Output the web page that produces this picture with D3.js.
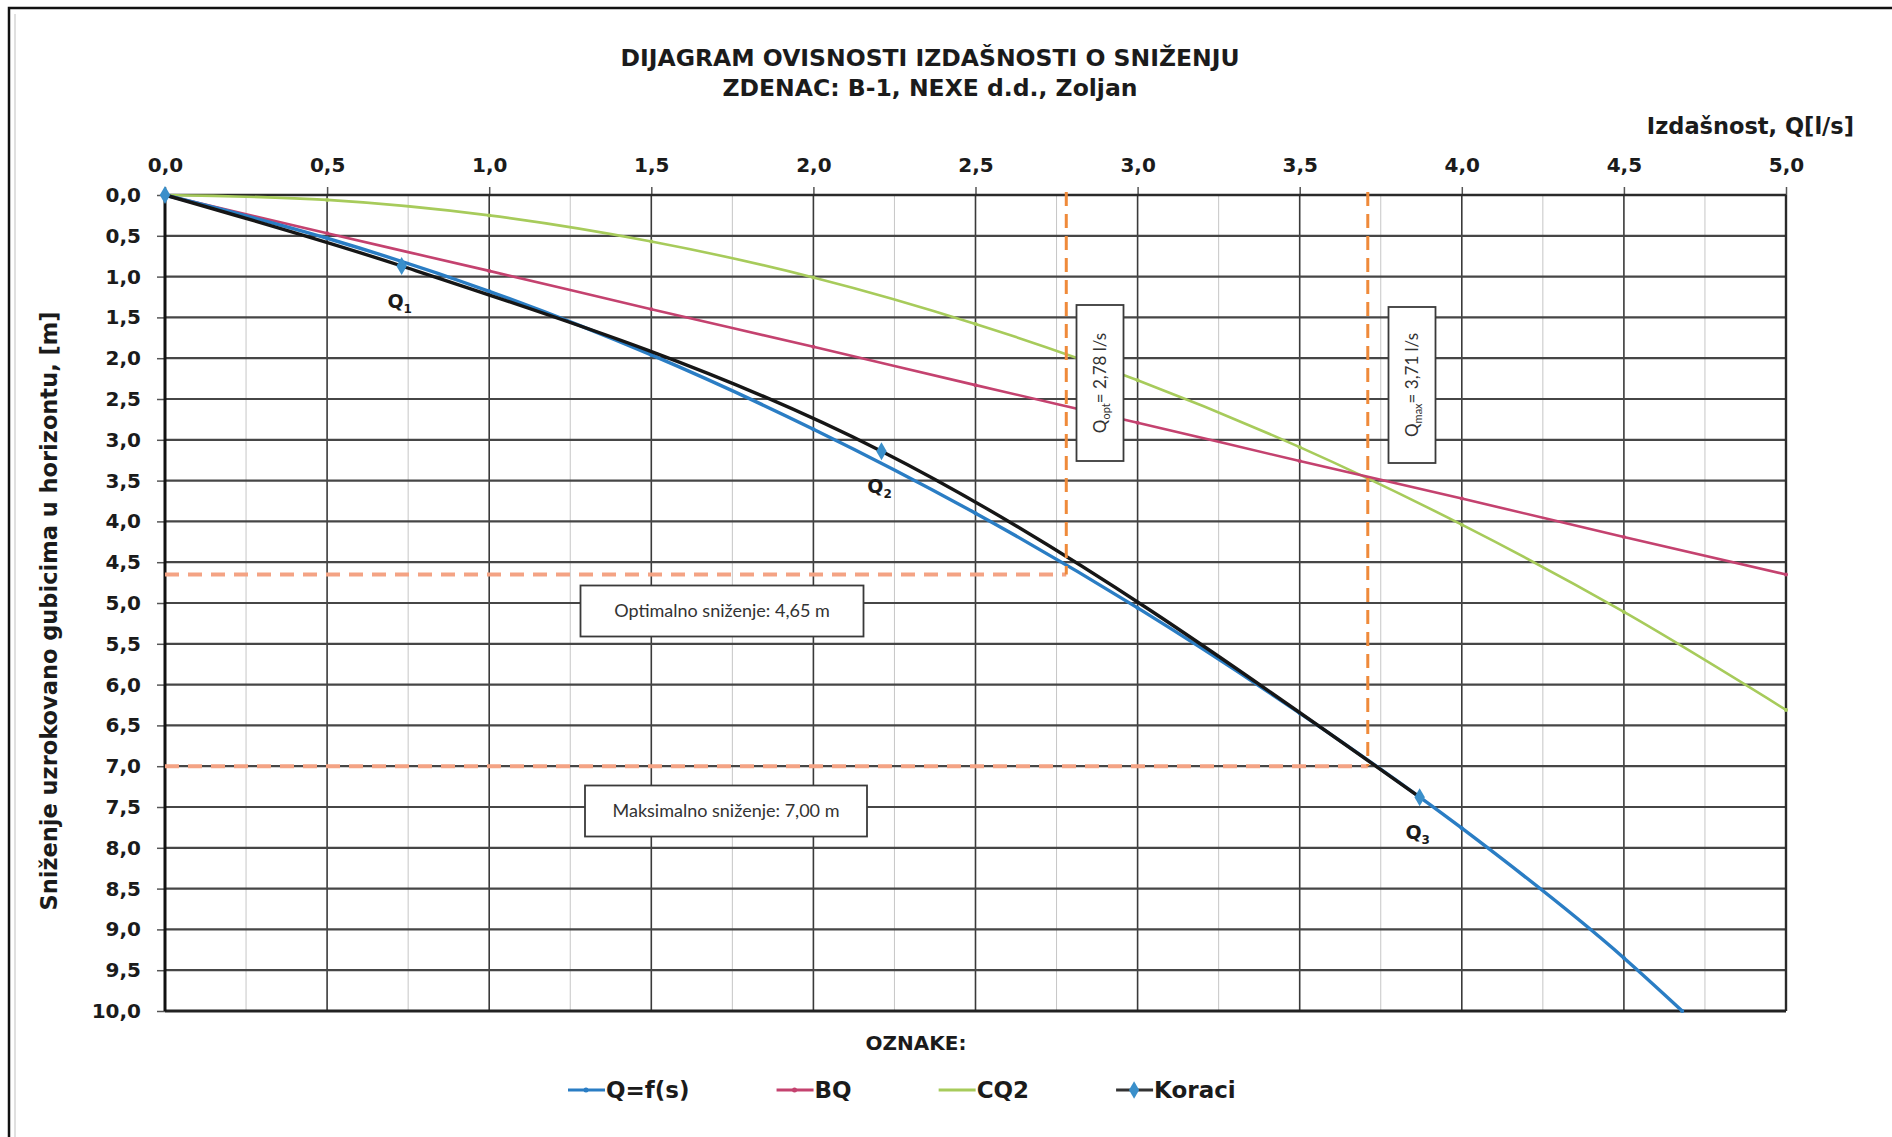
<!DOCTYPE html>
<html>
<head>
<meta charset="utf-8">
<script src="https://cdn.jsdelivr.net/npm/d3@7"></script>
<style>
  body { margin: 0; background: #fff; }
  svg text { font-family: "DejaVu Sans", sans-serif; font-weight: bold; fill: #1b1b1b; }
  svg .note { font-family: Lato, "Open Sans", sans-serif; font-weight: normal; fill: #333; }
</style>
</head>
<body>
<div id="chart"></div>
<script>
// values
// Q=f(s) (blue)
var qfQ = [0, 0.5, 1.0, 1.5, 2.0, 2.5, 3.0, 3.5, 4.0, 4.5, 4.68];
var qfS = [0, 0.53, 1.18, 1.96, 2.87, 3.90, 5.06, 6.35, 7.76, 9.35, 10.0];
// BQ (red)
var bqQ = [0, 0.5, 1.0, 1.5, 2.0, 2.5, 3.0, 3.5, 4.0, 4.5, 5.0];
var bqS = [0, 0.47, 0.93, 1.40, 1.86, 2.33, 2.79, 3.26, 3.72, 4.19, 4.65];
// CQ2 (green)
var cqQ = [0, 0.5, 1.0, 1.5, 2.0, 2.5, 3.0, 3.5, 4.0, 4.5, 5.0];
var cqS = [0, 0.06, 0.25, 0.57, 1.01, 1.58, 2.27, 3.09, 4.04, 5.11, 6.31];
// Koraci (pumping steps)
var korQ = [0, 0.73, 2.21, 3.87];
var korS = [0, 0.87, 3.14, 7.38];
var korName = ["", "1", "2", "3"];
// optimum / maximum
var qOpt = 2.78, sOpt = 4.65;
var qMax = 3.71, sMax = 7.00;
// ticks
var xTicks = [0, 0.5, 1.0, 1.5, 2.0, 2.5, 3.0, 3.5, 4.0, 4.5, 5.0];
var yTicks = [0, 0.5, 1.0, 1.5, 2.0, 2.5, 3.0, 3.5, 4.0, 4.5, 5.0, 5.5, 6.0, 6.5, 7.0, 7.5, 8.0, 8.5, 9.0, 9.5, 10.0];
var legendNames = ["Q=f(s)", "BQ", "CQ2", "Koraci"];

// svg params
var svgWidth = 1892;
var svgHeight = 1137;
var plot = { left: 165, right: 1786, top: 195, bottom: 1011 };

var colors = { qf: "#2a7dc4", bq: "#c4426f", cq: "#a7cb5b", kor: "#161616", dia: "#3a8fca", opt: "#ef8a3a", optH: "#f4a384" };

var svg = d3.select("#chart").append("svg")
    .attr("width", svgWidth)
    .attr("height", svgHeight);

var fmt = function(d) { return d3.format(".1f")(d).replace(".", ","); };
function fmt2(v) { return d3.format(".2f")(v).replace(".", ","); }

// scales
var xScale = d3.scaleLinear().domain([0, 5]).range([plot.left, plot.right]);
var yScale = d3.scaleLinear().domain([0, 10]).range([plot.top, plot.bottom]);

// outer frame (scan edge)
svg.append("path")
    .attr("d", `M9,${svgHeight + 5} L9,8 L${svgWidth + 5},8`)
    .attr("fill", "none").attr("stroke", "#111").attr("stroke-width", 2.5);
svg.append("line").attr("x1", 15).attr("x2", 15).attr("y1", 14).attr("y2", svgHeight)
    .attr("stroke", "#ccc").attr("stroke-width", 1.2);

// title
svg.append("text").attr("x", 930).attr("y", 66).attr("text-anchor", "middle")
    .style("font-size", "23.5px").text("DIJAGRAM OVISNOSTI IZDAŠNOSTI O SNIŽENJU");
svg.append("text").attr("x", 930).attr("y", 96).attr("text-anchor", "middle")
    .style("font-size", "23.5px").text("ZDENAC: B-1, NEXE d.d., Zoljan");

// grid
var grid = svg.append("g");
grid.selectAll(".minor").data(d3.range(0.25, 5, 0.5)).enter().append("line")
    .attr("x1", d => xScale(d)).attr("x2", d => xScale(d))
    .attr("y1", plot.top).attr("y2", plot.bottom)
    .attr("stroke", "#c6c6c6").attr("stroke-width", 1);
grid.selectAll(".major").data(xTicks.slice(1, -1)).enter().append("line")
    .attr("x1", d => xScale(d)).attr("x2", d => xScale(d))
    .attr("y1", plot.top).attr("y2", plot.bottom)
    .attr("stroke", "#3a3a3a").attr("stroke-width", 1.6);
grid.selectAll(".hor").data(yTicks.slice(1, -1)).enter().append("line")
    .attr("x1", plot.left).attr("x2", plot.right)
    .attr("y1", d => yScale(d)).attr("y2", d => yScale(d))
    .attr("stroke", "#464646").attr("stroke-width", 2.2);

// axes
var topAxis = d3.axisTop(xScale).tickValues(xTicks).tickFormat(fmt).tickSize(8).tickPadding(15);
var leftAxis = d3.axisLeft(yScale).tickValues(yTicks).tickFormat(fmt).tickSize(8).tickPadding(16);

var gTop = svg.append("g").attr("transform", `translate(0,${plot.top})`).call(topAxis);
var gLeft = svg.append("g").attr("transform", `translate(${plot.left},0)`).call(leftAxis);
[gTop, gLeft].forEach(function(g) {
    g.select(".domain").remove();
    g.selectAll(".tick line").attr("stroke", "#555").attr("stroke-width", 1.5);
    g.selectAll(".tick text").style("font-size", "20px").style("font-family", "DejaVu Sans")
        .style("font-weight", "bold").attr("fill", "#1b1b1b");
});

// plot border
svg.append("line").attr("x1", plot.left).attr("x2", plot.right).attr("y1", plot.top).attr("y2", plot.top)
    .attr("stroke", "#2a2a2a").attr("stroke-width", 2.4);
svg.append("line").attr("x1", plot.right).attr("x2", plot.right).attr("y1", plot.top).attr("y2", plot.bottom)
    .attr("stroke", "#2a2a2a").attr("stroke-width", 2.4);
svg.append("line").attr("x1", plot.left).attr("x2", plot.right).attr("y1", plot.bottom).attr("y2", plot.bottom)
    .attr("stroke", "#222").attr("stroke-width", 3);
svg.append("line").attr("x1", plot.left).attr("x2", plot.left).attr("y1", plot.top).attr("y2", plot.bottom)
    .attr("stroke", "#111").attr("stroke-width", 3);

// axis titles
svg.append("text").attr("x", 1854).attr("y", 134).attr("text-anchor", "end")
    .style("font-size", "22.5px").text("Izdašnost, Q[l/s]");
svg.append("text").attr("transform", "translate(57,611) rotate(-90)").attr("text-anchor", "middle")
    .style("font-size", "22.5px").text("Sniženje uzrokovano gubicima u horizontu, [m]");

// curves
function pts(qs, ss) { return qs.map((q, i) => ({ q: q, s: ss[i] })); }
var smooth = d3.line().x(d => xScale(d.q)).y(d => yScale(d.s)).curve(d3.curveMonotoneX);
var series = [
    { data: pts(cqQ, cqS), color: colors.cq, w: 2.6 },
    { data: pts(bqQ, bqS), color: colors.bq, w: 2.6 },
    { data: pts(qfQ, qfS), color: colors.qf, w: 3.4 }
];
var curves = svg.append("g");
series.forEach(function(sr) {
    curves.append("path").datum(sr.data)
        .attr("d", smooth).attr("fill", "none")
        .attr("stroke", sr.color).attr("stroke-width", sr.w);
    curves.selectAll(null).data(sr.data.slice(1)).enter().append("circle")
        .attr("cx", d => xScale(d.q)).attr("cy", d => yScale(d.s))
        .attr("r", 2).attr("fill", sr.color);
});

// Koraci (black line through steps)
var korData = pts(korQ, korS).map((d, i) => Object.assign(d, { name: korName[i] }));
curves.append("path").datum(korData)
    .attr("d", smooth)
    .attr("fill", "none").attr("stroke", colors.kor).attr("stroke-width", 3.4);

// optimum / maximum guides
var guides = svg.append("g");
[[qOpt, sOpt], [qMax, sMax]].forEach(function(p) {
    guides.append("line")
        .attr("x1", xScale(0)).attr("x2", xScale(p[0]))
        .attr("y1", yScale(p[1])).attr("y2", yScale(p[1]))
        .attr("stroke", colors.optH).attr("stroke-width", 4).attr("stroke-dasharray", "14,9");
    guides.append("line")
        .attr("x1", xScale(p[0])).attr("x2", xScale(p[0]))
        .attr("y1", yScale(0) - 3).attr("y2", yScale(p[1]))
        .attr("stroke", colors.opt).attr("stroke-width", 3).attr("stroke-dasharray", "14,8");
});

// note boxes
var notes = svg.append("g");
function noteBox(cx, cy, w, h) {
    notes.append("rect").attr("x", cx - w / 2).attr("y", cy - h / 2)
        .attr("width", w).attr("height", h)
        .attr("fill", "#fff").attr("stroke", "#3a3a3a").attr("stroke-width", 1.8);
}
noteBox(722, 611, 283, 51);
notes.append("text").attr("class", "note").attr("x", 722).attr("y", 617).attr("text-anchor", "middle")
    .style("font-size", "18px").text("Optimalno sniženje: " + fmt2(sOpt) + " m");
noteBox(726, 811, 282, 51);
notes.append("text").attr("class", "note").attr("x", 726).attr("y", 817).attr("text-anchor", "middle")
    .style("font-size", "18px").text("Maksimalno sniženje: " + fmt2(sMax) + " m");

function vNote(cx, cy, sub, val) {
    noteBox(cx, cy, 47, 156);
    var t = notes.append("text").attr("class", "note")
        .attr("transform", `translate(${cx + 6},${cy}) rotate(-90)`)
        .attr("text-anchor", "middle").style("font-size", "17px");
    t.append("tspan").text("Q");
    t.append("tspan").attr("dy", 4).style("font-size", "11px").text(sub);
    t.append("tspan").attr("dy", -4).text("= " + fmt2(val) + " l/s");
}
vNote(1100, 383, "opt", qOpt);
vNote(1412, 385, "max", qMax);

// Koraci markers and labels
var markers = svg.append("g");
markers.selectAll("path").data(korData).enter().append("path")
    .attr("d", d3.symbol(d3.symbolDiamond, 95))
    .attr("transform", d => `translate(${xScale(d.q)},${yScale(d.s)})`)
    .attr("fill", colors.dia);
var qLab = markers.selectAll("text").data(korData.filter(d => d.name)).enter().append("text")
    .attr("x", d => xScale(d.q) - 2).attr("y", d => yScale(d.s) + 42)
    .attr("text-anchor", "middle").style("font-size", "19px");
qLab.append("tspan").text("Q");
qLab.append("tspan").attr("dy", 5).style("font-size", "12px").text(d => d.name);

// legend
svg.append("text").attr("x", 916).attr("y", 1050).attr("text-anchor", "middle")
    .style("font-size", "20px").text("OZNAKE:");
var legColors = [colors.qf, colors.bq, colors.cq, "#333"];
var legend = svg.append("g");
var lx = 568, ly = 1090;
legendNames.forEach(function(name, i) {
    legend.append("line").attr("x1", lx).attr("x2", lx + 37).attr("y1", ly).attr("y2", ly)
        .attr("stroke", legColors[i]).attr("stroke-width", 3);
    if (i === 3) {
        legend.append("path").attr("d", d3.symbol(d3.symbolDiamond, 90))
            .attr("transform", `translate(${lx + 18},${ly})`).attr("fill", colors.dia);
    } else if (i < 2) {
        legend.append("circle").attr("cx", lx + 18).attr("cy", ly).attr("r", 2.5).attr("fill", legColors[i]);
    }
    var t = legend.append("text").attr("x", lx + 38).attr("y", ly + 8)
        .style("font-size", "23px").text(name);
    lx += 37 + t.node().getComputedTextLength() + 88;
});
</script>
</body>
</html>
